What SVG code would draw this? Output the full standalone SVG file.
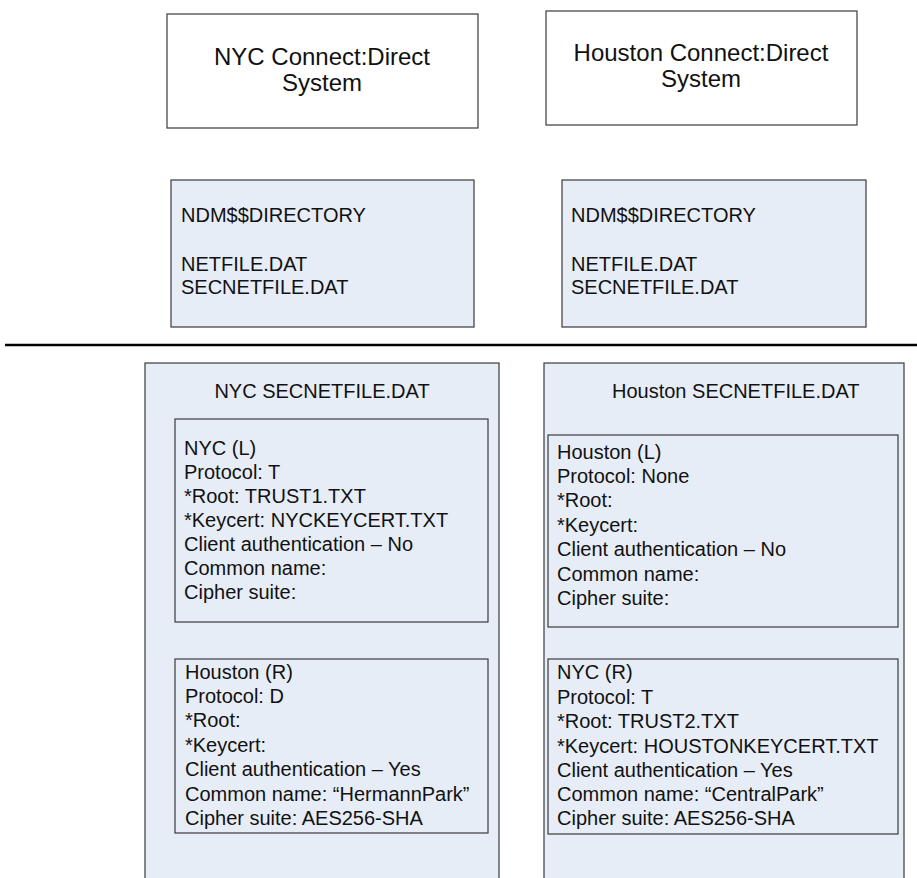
<svg xmlns="http://www.w3.org/2000/svg" width="917" height="878" viewBox="0 0 917 878">
<style>
  .box { fill: #ffffff; stroke: #3a3a3a; stroke-width: 1.2; }
  .blue { fill: #e7edf7; stroke: #3a3a3a; stroke-width: 1.2; }
  text { font-family: "Liberation Sans", Arial, sans-serif; fill: #111111; }
  .title { font-size: 24px; text-anchor: middle; }
  .t { font-size: 20px; }
</style>
<rect width="917" height="878" fill="#ffffff"/>

<g id="nyc-system">
  <rect class="box" x="167" y="14" width="311" height="114"/>
  <text class="title" x="322" y="65">NYC Connect:Direct</text>
  <text class="title" x="322" y="91">System</text>
</g>

<g id="houston-system">
  <rect class="box" x="546" y="11" width="311" height="114"/>
  <text class="title" x="701" y="61">Houston Connect:Direct</text>
  <text class="title" x="701" y="87">System</text>
</g>

<g id="nyc-ndm">
  <rect class="blue" x="171" y="180" width="303" height="147"/>
  <text class="t" x="181" y="222">NDM$$DIRECTORY</text>
  <text class="t" x="181" y="271">NETFILE.DAT</text>
  <text class="t" x="181" y="294">SECNETFILE.DAT</text>
</g>

<g id="houston-ndm">
  <rect class="blue" x="562" y="180" width="304" height="147"/>
  <text class="t" x="571" y="222">NDM$$DIRECTORY</text>
  <text class="t" x="571" y="271">NETFILE.DAT</text>
  <text class="t" x="571" y="294">SECNETFILE.DAT</text>
</g>

<g id="separator">
  <line x1="5" y1="345" x2="917" y2="345" stroke="#000000" stroke-width="2.5"/>
</g>

<g id="nyc-secnetfile">
  <rect class="blue" x="145" y="363" width="354" height="530"/>
  <text class="t" x="322" y="398" text-anchor="middle">NYC SECNETFILE.DAT</text>
</g>

<g id="nyc-local">
  <rect class="blue" x="175" y="419" width="313" height="203"/>
  <text class="t" x="184" y="455">NYC (L)</text>
  <text class="t" x="184" y="479">Protocol: T</text>
  <text class="t" x="184" y="503">*Root: TRUST1.TXT</text>
  <text class="t" x="184" y="527">*Keycert: NYCKEYCERT.TXT</text>
  <text class="t" x="184" y="551">Client authentication – No</text>
  <text class="t" x="184" y="575">Common name:</text>
  <text class="t" x="184" y="599">Cipher suite:</text>
</g>

<g id="nyc-remote">
  <rect class="blue" x="175" y="659" width="313" height="174"/>
  <text class="t" x="185" y="679">Houston (R)</text>
  <text class="t" x="185" y="703">Protocol: D</text>
  <text class="t" x="185" y="727">*Root:</text>
  <text class="t" x="185" y="752">*Keycert:</text>
  <text class="t" x="185" y="776">Client authentication – Yes</text>
  <text class="t" x="185" y="801">Common name: “HermannPark”</text>
  <text class="t" x="185" y="825">Cipher suite: AES256-SHA</text>
</g>

<g id="houston-secnetfile">
  <rect class="blue" x="544" y="363" width="360" height="530"/>
  <text class="t" x="612" y="398">Houston SECNETFILE.DAT</text>
</g>

<g id="houston-local">
  <rect class="blue" x="548" y="435" width="350" height="192"/>
  <text class="t" x="557" y="459">Houston (L)</text>
  <text class="t" x="557" y="483">Protocol: None</text>
  <text class="t" x="557" y="507">*Root:</text>
  <text class="t" x="557" y="532">*Keycert:</text>
  <text class="t" x="557" y="556">Client authentication – No</text>
  <text class="t" x="557" y="581">Common name:</text>
  <text class="t" x="557" y="605">Cipher suite:</text>
</g>

<g id="houston-remote">
  <rect class="blue" x="548" y="659" width="350" height="175"/>
  <text class="t" x="557" y="679">NYC (R)</text>
  <text class="t" x="557" y="704">Protocol: T</text>
  <text class="t" x="557" y="728">*Root: TRUST2.TXT</text>
  <text class="t" x="557" y="753">*Keycert: HOUSTONKEYCERT.TXT</text>
  <text class="t" x="557" y="777">Client authentication – Yes</text>
  <text class="t" x="557" y="801">Common name: “CentralPark”</text>
  <text class="t" x="557" y="825">Cipher suite: AES256-SHA</text>
</g>
</svg>
